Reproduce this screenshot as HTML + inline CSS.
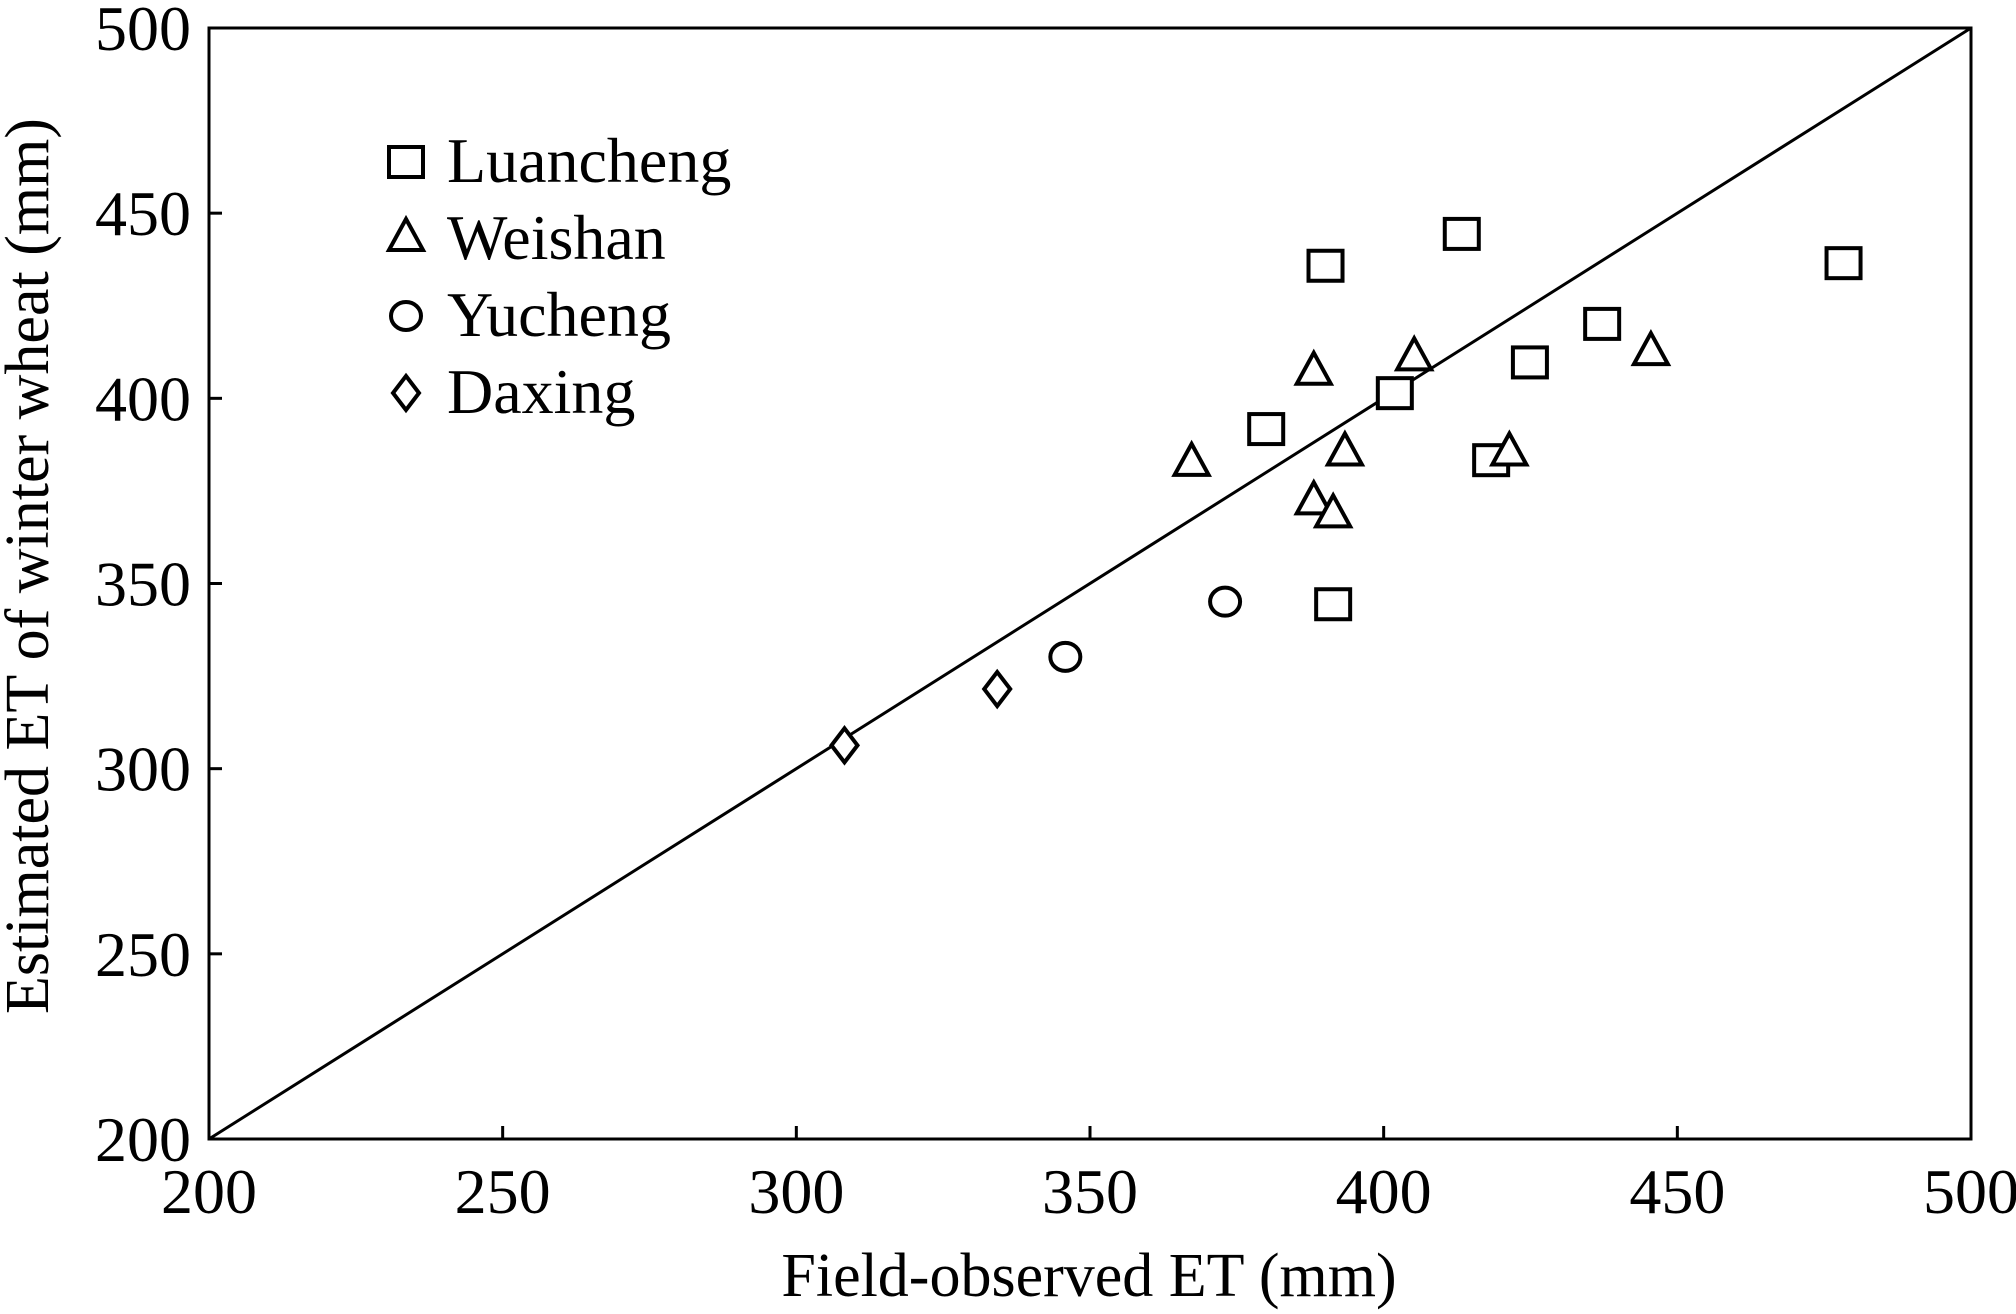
<!DOCTYPE html>
<html><head><meta charset="utf-8"><style>
html,body{margin:0;padding:0;background:#fff;}
svg{display:block;font-family:"Liberation Serif",serif;}
</style></head><body>
<svg id="chart" width="2016" height="1314" viewBox="0 0 2016 1314" xmlns="http://www.w3.org/2000/svg"></svg>
<script>
const xTicks=[200,250,300,350,400,450,500];
const yTicks=[200,250,300,350,400,450,500];
const luanX=[390.1,413.3,478.3,437.2,424.9,401.9,380.0,418.3,391.4];
const luanY=[435.8,444.4,436.5,420.1,409.7,401.4,391.7,383.3,344.4];
const weiX=[388.1,405.2,445.5,367.3,393.4,421.4,388.1,391.4];
const weiY=[406.9,410.8,412.2,382.3,385.1,385.1,371.9,368.4];
const yuX=[373.0,345.8];
const yuY=[345.1,330.2];
const daX=[308.2,334.2];
const daY=[306.3,321.5];
const legendLabels=["Luancheng","Weishan","Yucheng","Daxing"];

const NS="http://www.w3.org/2000/svg";
const svg=document.getElementById('chart');
const L=209,R=1971,T=28,B=1139;
const sx=v=>L+(v-200)/300*(R-L);
const sy=v=>B-(v-200)/300*(B-T);
function mk(tag,attrs,parent){const e=document.createElementNS(NS,tag);for(const k in attrs)e.setAttribute(k,attrs[k]);(parent||svg).appendChild(e);return e;}
const st={stroke:'#000','stroke-width':4,fill:'#fff'};

// frame
let f=mk('rect',{x:L,y:T,width:R-L,height:B-T,fill:'none',stroke:'#000','stroke-width':3});


// 1:1 line
let ln=mk('line',{x1:sx(200),y1:sy(200),x2:sx(500),y2:sy(500),stroke:'#000','stroke-width':3});



xTicks.forEach(v=>{
  let t=mk('line',{x1:sx(v),y1:B,x2:sx(v),y2:B-13,stroke:'#000','stroke-width':3});
  
  
  let tx=mk('text',{x:sx(v),y:1213,'font-size':64,'text-anchor':'middle'});
  tx.textContent=v;
  
  
});
yTicks.forEach(v=>{
  let t=mk('line',{x1:L,y1:sy(v),x2:L+13,y2:sy(v),stroke:'#000','stroke-width':3});
  
  
  let tx=mk('text',{x:191,y:sy(v)+22,'font-size':64,'text-anchor':'end'});
  tx.textContent=v;
  
  
});
let xt=mk('text',{x:1089,y:1296,'font-size':62,'text-anchor':'middle'});
xt.textContent='Field-observed ET (mm)';


let yt=mk('text',{x:0,y:0,'font-size':62,'text-anchor':'middle',transform:'translate(48,566) rotate(-90)'});
yt.textContent='Estimated ET of winter wheat (mm)';



function square(cx,cy,p){return mk('rect',Object.assign({x:cx-17,y:cy-15,width:34,height:30},st),p);}
function tri(cx,cy,p){return mk('polygon',Object.assign({points:`${cx},${cy-20} ${cx+17},${cy+11} ${cx-17},${cy+11}`},st),p);}
function circ(cx,cy,p){return mk('ellipse',Object.assign({cx:cx,cy:cy,rx:15,ry:14},st),p);}
function dia(cx,cy,p){return mk('polygon',Object.assign({points:`${cx},${cy-17} ${cx+13},${cy} ${cx},${cy+17} ${cx-13},${cy}`},st),p);}

function series(xs,ys,fn,name){
  const g=mk('g',{});
  
  
  xs.forEach((x,i)=>{const e=fn(sx(x),sy(ys[i]),g);
    
    });
}
series(luanX,luanY,square,'luancheng');
series(weiX,weiY,tri,'weishan');
series(yuX,yuY,circ,'yucheng');
series(daX,daY,dia,'daxing');

const fns=[square,tri,circ,dia];
const lg=mk('g',{});


legendLabels.forEach((lab,i)=>{
  const cy=162+i*77;
  const m=fns[i](406,cy,lg);
  
  
  const t=mk('text',{x:447,y:cy+20,'font-size':64},lg);
  t.textContent=lab;
  
  
});
</script>
</body></html>
